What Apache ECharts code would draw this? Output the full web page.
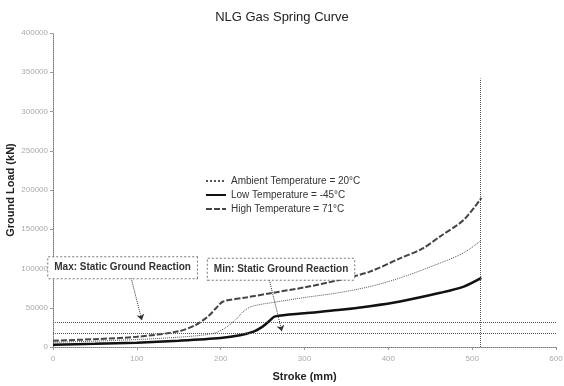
<!DOCTYPE html>
<html>
<head>
<meta charset="utf-8">
<script src="https://cdn.jsdelivr.net/npm/echarts@6/dist/echarts.min.js"></script>
<style>
  html, body { margin: 0; padding: 0; background: #fff; }
  #chart { width: 564px; height: 386px; }
</style>
</head>
<body>
<div id="chart"></div>
<script>
// stroke (mm) / ground load (kN) pairs
const ambientCurve = [
  [0, 6000], [50, 7500], [100, 9500], [150, 12500], [190, 17000], [205, 24000],
  [218, 35000], [228, 46000], [238, 52000], [270, 58000], [300, 63000],
  [340, 69000], [378, 77000], [414, 88000], [462, 107000], [490, 120000], [511, 136000],
];
const lowCurve = [
  [0, 3000], [50, 4000], [100, 5500], [150, 8000], [200, 11500], [223, 15000],
  [240, 20000], [250, 26000], [258, 33000], [265, 39000], [300, 43000],
  [340, 47000], [378, 52000], [414, 58000], [462, 69000], [490, 77000], [511, 88000],
];
const highCurve = [
  [0, 8000], [50, 10000], [100, 13000], [150, 20000], [170, 28000], [185, 39000],
  [195, 50000], [203, 58000], [230, 63000], [262, 69000], [300, 76000],
  [340, 85000], [378, 96000], [414, 113000], [440, 125000], [462, 141000],
  [490, 162000], [511, 190000],
];
const seriesNames = ['Ambient Temperature = 20°C', 'Low Temperature = -45°C', 'High Temperature = 71°C'];
const staticLoads = [32000, 17000];        // max / min static ground reaction
const strokeLimit = [510, 342000];         // vertical dotted line: stroke, top
const annotations = [
  { text: 'Max: Static Ground Reaction', box: [83, 101000], from: [92, 93000], to: [106, 34000] },
  { text: 'Min: Static Ground Reaction', box: [272, 99000], from: [257, 90000], to: [273, 20000] },
];

const dotted = { type: 'dotted', color: '#777', width: 1 };

const chart = echarts.init(document.getElementById('chart'));
chart.setOption({
  animation: false,
  backgroundColor: '#fff',
  title: {
    text: 'NLG Gas Spring Curve',
    left: 'center',
    top: 6,
    textStyle: { fontFamily: 'Liberation Sans', fontSize: 13, fontWeight: 'normal', color: '#222' },
  },
  legend: {
    orient: 'vertical',
    left: 200,
    top: 171,
    itemWidth: 20,
    itemHeight: 8,
    itemGap: 4,
    itemStyle: { opacity: 0 },
    textStyle: { fontFamily: 'Liberation Sans', fontSize: 10, color: '#333' },
    data: seriesNames,
  },
  grid: { left: 53, right: 8, top: 33, bottom: 39, containLabel: false, outerBoundsMode: 'none' },
  xAxis: {
    type: 'value',
    min: 0, max: 600, interval: 100,
    name: 'Stroke (mm)',
    nameLocation: 'middle',
    nameGap: 24,
    nameMoveOverlap: false,
    nameTextStyle: { fontFamily: 'Liberation Sans', fontSize: 11, fontWeight: 'bold', color: '#222' },
    axisLine: { lineStyle: dotted },
    axisTick: { show: true, length: 3, lineStyle: { color: '#999' } },
    axisLabel: { fontFamily: 'Liberation Sans', fontSize: 8, color: '#aaa', margin: 8 },
    splitLine: { show: false },
  },
  yAxis: {
    type: 'value',
    min: 0, max: 400000, interval: 50000,
    name: 'Ground Load (kN)',
    nameLocation: 'middle',
    nameGap: 37,
    nameMoveOverlap: false,
    nameTextStyle: { fontFamily: 'Liberation Sans', fontSize: 11, fontWeight: 'bold', color: '#222' },
    axisLine: { show: true, lineStyle: dotted },
    axisTick: { show: true, length: 3, lineStyle: { color: '#999' } },
    axisLabel: { fontFamily: 'Liberation Sans', fontSize: 8, color: '#aaa', margin: 5, formatter: v => String(v) },
    splitLine: { show: false },
  },
  series: [
    {
      name: seriesNames[0],
      type: 'line',
      smooth: 0.3,
      symbol: 'none',
      lineStyle: { color: '#555', width: 1, type: 'dotted' },
      itemStyle: { color: '#555' },
      data: ambientCurve,
      markLine: {
        silent: true,
        symbol: 'none',
        label: { show: false },
        lineStyle: { type: 'dotted', color: '#555', width: 1 },
        data: [
          ...staticLoads.map(v => ({ yAxis: v })),
          [{ coord: [strokeLimit[0], 0] }, { coord: strokeLimit }],
        ],
      },
    },
    {
      name: seriesNames[1],
      type: 'line',
      smooth: 0.3,
      symbol: 'none',
      lineStyle: { color: '#111', width: 2.5 },
      itemStyle: { color: '#111' },
      data: lowCurve,
    },
    {
      name: seriesNames[2],
      type: 'line',
      smooth: 0.3,
      symbol: 'none',
      lineStyle: { color: '#444', width: 2, type: [6, 2] },
      itemStyle: { color: '#444' },
      data: highCurve,
      markLine: {
        silent: true,
        symbol: ['none', 'arrow'],
        symbolSize: 6,
        label: { show: false },
        lineStyle: { type: 'dotted', color: '#333', width: 1 },
        data: annotations.map(a => [{ coord: a.from }, { coord: a.to }]),
      },
      markPoint: {
        silent: true,
        symbol: 'rect',
        symbolSize: 1,
        itemStyle: { color: 'rgba(0,0,0,0)' },
        label: {
          show: true,
          position: 'inside',
          fontFamily: 'Liberation Sans',
          fontSize: 10,
          fontWeight: 'bold',
          color: '#333',
          backgroundColor: '#fff',
          borderColor: '#777',
          borderWidth: 1,
          borderType: 'dotted',
          padding: [6, 6, 5, 6],
          formatter: p => p.name,
        },
        data: annotations.map(a => ({ name: a.text, coord: a.box })),
      },
    },
  ],
});
</script>
</body>
</html>
